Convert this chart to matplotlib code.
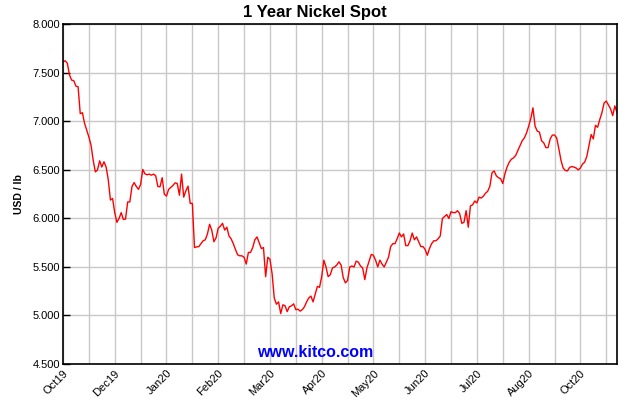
import matplotlib
matplotlib.use("Agg")
import matplotlib.pyplot as plt
from matplotlib.ticker import FormatStrFormatter, MultipleLocator

# Nickel spot, USD / lb, one value per trading day
prices = [
    7.614, 7.625, 7.60, 7.48, 7.426, 7.42, 7.364, 7.357, 7.08, 7.09,
    6.98, 6.91, 6.84, 6.756, 6.60, 6.48, 6.50, 6.594, 6.53, 6.584,
    6.53, 6.40, 6.19, 6.206, 6.06, 5.96, 6.00, 6.06, 5.99, 5.993,
    6.17, 6.17, 6.33, 6.37, 6.33, 6.30, 6.35, 6.505, 6.46, 6.45,
    6.457, 6.446, 6.457, 6.44, 6.33, 6.326, 6.42, 6.25, 6.23, 6.30,
    6.32, 6.34, 6.367, 6.36, 6.24, 6.457, 6.22, 6.285, 6.333, 6.155,
    6.155, 5.70, 5.707, 5.71, 5.74, 5.77, 5.78, 5.84, 5.94, 5.88,
    5.76, 5.80, 5.90, 5.92, 5.95, 5.88, 5.91, 5.82, 5.79, 5.74,
    5.68, 5.625, 5.615, 5.615, 5.60, 5.53, 5.65, 5.65, 5.70, 5.78,
    5.81, 5.75, 5.69, 5.70, 5.40, 5.60, 5.58, 5.43, 5.18, 5.116,
    5.14, 5.02, 5.11, 5.10, 5.04, 5.09, 5.10, 5.12, 5.06, 5.065,
    5.045, 5.06, 5.09, 5.14, 5.18, 5.20, 5.14, 5.22, 5.30, 5.29,
    5.40, 5.57, 5.50, 5.40, 5.42, 5.49, 5.50, 5.52, 5.553, 5.52,
    5.39, 5.336, 5.36, 5.50, 5.51, 5.50, 5.56, 5.55, 5.51, 5.49,
    5.37, 5.49, 5.56, 5.63, 5.62, 5.57, 5.50, 5.57, 5.53, 5.50,
    5.55, 5.60, 5.71, 5.74, 5.74, 5.79, 5.85, 5.81, 5.84, 5.72,
    5.72, 5.77, 5.85, 5.78, 5.81, 5.76, 5.71, 5.71, 5.68, 5.62,
    5.69, 5.74, 5.77, 5.77, 5.79, 5.82, 6.00, 6.02, 6.04, 6.00,
    6.07, 6.06, 6.06, 6.08, 6.05, 5.95, 5.96, 6.08, 5.91, 6.13,
    6.14, 6.18, 6.16, 6.22, 6.21, 6.23, 6.26, 6.28, 6.33, 6.47,
    6.49, 6.44, 6.42, 6.41, 6.36, 6.46, 6.53, 6.58, 6.61, 6.625,
    6.65, 6.70, 6.75, 6.80, 6.83, 6.88, 6.95, 7.03, 7.14, 6.95,
    6.90, 6.89, 6.80, 6.78, 6.73, 6.73, 6.82, 6.859, 6.86, 6.83,
    6.72, 6.60, 6.52, 6.495, 6.49, 6.526, 6.535, 6.53, 6.52, 6.50,
    6.52, 6.56, 6.58, 6.64, 6.75, 6.865, 6.82, 6.96, 6.94, 7.02,
    7.09, 7.19, 7.21, 7.17, 7.13, 7.06, 7.16, 7.09,
]
days = list(range(len(prices)))

# kitco puts a label on every second grid line
tick_days = [0, 24, 48, 72, 96, 120, 144, 168, 192, 216, 240]
tick_labels = ['Oct19', 'Dec19', 'Jan20', 'Feb20', 'Mar20', 'Apr20',
               'May20', 'Jun20', 'Jul20', 'Aug20', 'Oct20']
grid_step = 12

plt.rcParams['font.family'] = ['Liberation Sans', 'DejaVu Sans']

fig = plt.figure(figsize=(6.3, 4.0), dpi=100)
ax = fig.add_axes([0.1, 0.09, 0.8794, 0.849])

ax.plot(days, prices, color='#ff0000', linewidth=1.0)

ax.set_xlim(0, len(prices) - 1)
ax.set_ylim(4.5, 8.0)
ax.yaxis.set_major_locator(MultipleLocator(0.5))
ax.yaxis.set_major_formatter(FormatStrFormatter('%.3f'))
ax.xaxis.set_minor_locator(MultipleLocator(grid_step))
ax.set_xticks(tick_days)
ax.set_xticklabels(tick_labels, rotation=45, ha='right', rotation_mode='anchor')

ax.grid(True, which='both', color='#c8c8c8', linewidth=1.0)
ax.set_axisbelow(True)
ax.tick_params(axis='y', direction='in', length=5, width=1, labelsize=8, pad=2)
ax.tick_params(axis='x', which='both', length=0, labelsize=8, pad=3)
for sp in ax.spines.values():
    sp.set_linewidth(1.2)

ax.set_ylabel('USD / lb', fontsize=7.5, fontweight='bold', labelpad=6)
fig.text(0.5, 0.968, '1 Year Nickel Spot', ha='center', va='center',
         fontsize=12, fontweight='bold')
fig.text(0.5, 0.118, 'www.kitco.com', ha='center', va='center',
         fontsize=11.5, fontweight='bold', color='#0000ff')

fig.savefig('out.png', dpi=100)
